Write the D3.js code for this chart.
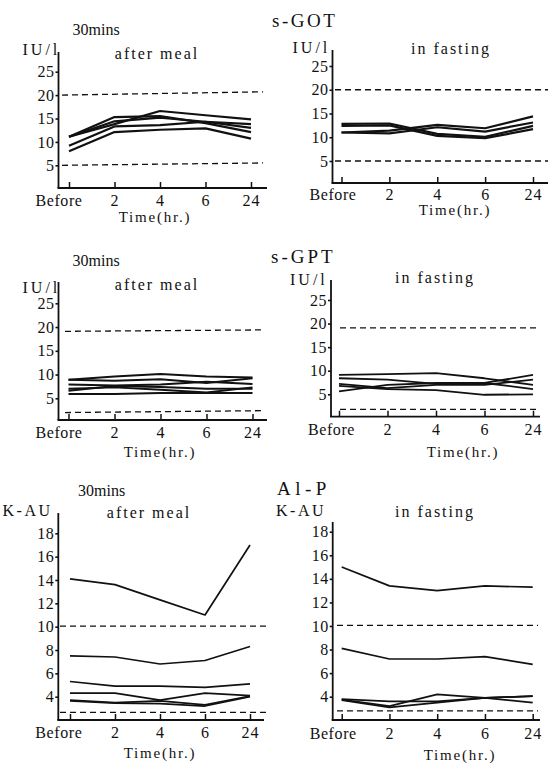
<!DOCTYPE html>
<html>
<head>
<meta charset="utf-8">
<script src="https://cdn.jsdelivr.net/npm/d3@7"></script>
<style>
  body { margin: 0; background: #fff; }
  svg, svg text { font-family: "Liberation Serif", "Times New Roman", Times, "DejaVu Serif", "Noto Serif", serif !important; }
  svg text { fill: #111; }
</style>
</head>
<body>
<div id="chart-container"></div>
<script>
// time points on the x axis
const timeLabels = ["Before", "2", "4", "6", "24"];

const iuTicks = [5, 10, 15, 20, 25];
const kauTicks = [4, 6, 8, 10, 12, 14, 16, 18];

// s-GOT (IU/l)
const gotMeal = [
  [11.1, 13.8, 16.6, 15.7, 14.8],
  [11.1, 15.3, 15.5, 14.0, 12.1],
  [11.1, 14.4, 15.2, 14.3, 13.0],
  [9.2, 13.3, 13.6, 14.3, 13.8],
  [8.0, 12.1, 12.6, 12.9, 10.7]
];
const gotFast = [
  [12.8, 12.9, 10.7, 10.1, 12.4],
  [12.4, 12.5, 10.3, 9.8, 11.7],
  [11.0, 11.4, 12.6, 11.9, 14.4],
  [11.0, 10.8, 12.1, 11.2, 13.1]
];
const gotMealRef = [[20, 20.7], [5, 5.5]];
const gotFastRef = [[20, 20], [5, 5]];

// s-GPT (IU/l)
const gptMeal = [
  [8.9, 9.6, 10.1, 9.6, 9.4],
  [8.9, 8.7, 9.0, 8.2, 9.2],
  [7.9, 7.7, 7.9, 8.5, 8.0],
  [7.0, 7.3, 6.8, 6.2, 7.3],
  [6.6, 7.6, 7.4, 7.0, 7.0],
  [5.9, 5.9, 6.1, 6.1, 6.1]
];
const gptFast = [
  [9.1, 9.3, 9.5, 8.4, 7.0],
  [8.4, 8.1, 7.2, 7.4, 9.1],
  [7.2, 6.3, 7.0, 7.0, 8.1],
  [5.6, 7.0, 7.4, 7.4, 6.1],
  [6.8, 6.1, 5.9, 4.9, 5.0]
];
const gptMealRef = [[19.1, 19.4], [2.0, 2.4]];
const gptFastRef = [[19.1, 19.1], [1.8, 1.8]];

// Al-P (K-AU)
const alpMeal = [
  [14.1, 13.6, 12.3, 11.0, 17.0],
  [7.5, 7.4, 6.8, 7.1, 8.3],
  [5.3, 4.9, 4.9, 4.8, 5.1],
  [4.3, 4.3, 3.7, 4.3, 4.1],
  [3.7, 3.5, 3.65, 3.3, 4.05],
  [3.65, 3.45, 3.4, 3.2, 4.0]
];
const alpFast = [
  [15.0, 13.4, 13.0, 13.4, 13.3],
  [8.1, 7.2, 7.2, 7.4, 6.75],
  [3.8, 3.6, 3.6, 3.9, 4.05],
  [3.75, 3.2, 4.2, 3.9, 3.5],
  [3.7, 3.1, 3.5, 3.9, 4.05]
];
const alpMealRef = [[10.05, 10.05], [2.65, 2.65]];
const alpFastRef = [[10.05, 10.05], [2.8, 2.8]];

const FONT = "'Liberation Serif', 'Times New Roman', Times, 'DejaVu Serif', serif";

const svg = d3.select("#chart-container")
  .append("svg")
    .attr("width", 553)
    .attr("height", 763)
    .attr("font-family", FONT);

// panel layout: axis origin, tick extents, two calibration ticks for y
const panels = [
  { data: gotMeal, ref: gotMealRef, ticks: iuTicks, lw: 2.2,
    axisX: 58.5, axisY: 188, yTop: 52, xFirst: 69, xLast: 251, xEnd: 267, refX: [62, 263],
    yDom: [5, 25], yRange: [165.3, 71.7], timeX: 155, timeY: 222, tickY: 206,
    unit: { t: "IU/l", x: 22.5, y: 55, ls: 3 }, sub: { t: "after meal", x: 157, y: 59 },
    pre: { t: "30mins", x: 72.5, y: 35 } },
  { data: gotFast, ref: gotFastRef, ticks: iuTicks, lw: 2.2,
    axisX: 332.5, axisY: 183, yTop: 50, xFirst: 341.5, xLast: 533, xEnd: 548, refX: [335, 548],
    yDom: [5, 25], yRange: [161, 66], timeX: 455, timeY: 215, tickY: 200,
    unit: { t: "IU/l", x: 292.5, y: 53, ls: 3 }, sub: { t: "in fasting", x: 451, y: 54 } },
  { data: gptMeal, ref: gptMealRef, ticks: iuTicks, lw: 2,
    axisX: 58.5, axisY: 420, yTop: 282, xFirst: 68.5, xLast: 252.5, xEnd: 267, refX: [65, 265],
    yDom: [5, 25], yRange: [398.3, 303.3], timeX: 160, timeY: 457, tickY: 438,
    unit: { t: "IU/l", x: 22.5, y: 293, ls: 3 }, sub: { t: "after meal", x: 157, y: 290 },
    pre: { t: "30mins", x: 72.5, y: 266 } },
  { data: gptFast, ref: gptFastRef, ticks: iuTicks, lw: 1.8,
    axisX: 331, axisY: 416.7, yTop: 280, xFirst: 339, xLast: 533, xEnd: 540, refX: [340, 540],
    yDom: [5, 25], yRange: [394.3, 300], timeX: 463, timeY: 457, tickY: 435,
    unit: { t: "IU/l", x: 290, y: 285, ls: 3 }, sub: { t: "in fasting", x: 435, y: 283 } },
  { data: alpMeal, ref: alpMealRef, ticks: kauTicks, lw: 1.7,
    axisX: 58.3, axisY: 720, yTop: 513, xFirst: 70, xLast: 250, xEnd: 264, refX: [60, 267],
    yDom: [4, 18], yRange: [696.7, 533.3], timeX: 160, timeY: 758, tickY: 738,
    unit: { t: "K-AU", x: 2.5, y: 516, ls: 2.5 }, sub: { t: "after meal", x: 149, y: 518 },
    pre: { t: "30mins", x: 78, y: 496 } },
  { data: alpFast, ref: alpFastRef, ticks: kauTicks, lw: 1.7,
    axisX: 332.7, axisY: 720, yTop: 522, xFirst: 341.7, xLast: 532.7, xEnd: 540, refX: [337, 538],
    yDom: [4, 18], yRange: [696.7, 531.7], timeX: 460, timeY: 760, tickY: 739,
    unit: { t: "K-AU", x: 276, y: 516, ls: 2.5 }, sub: { t: "in fasting", x: 435, y: 517 } }
];

// section titles
const titles = [
  { t: "s-GOT", x: 272, y: 27, ls: 2.5 },
  { t: "s-GPT", x: 271, y: 263, ls: 3 },
  { t: "Al-P", x: 277, y: 495, ls: 4.5 }
];
svg.selectAll(".title")
  .data(titles)
  .join("text")
  .attr("class", "title")
  .attr("x", d => d.x)
  .attr("y", d => d.y)
  .style("font-size", "19px")
  .style("letter-spacing", d => d.ls + "px")
  .text(d => d.t);

panels.forEach(p => {
  const g = svg.append("g");

  const x = d3.scalePoint()
    .domain(timeLabels)
    .range([p.xFirst, p.xLast]);

  const y = d3.scaleLinear()
    .domain(p.yDom)
    .range(p.yRange);

  // y ticks
  const ya = g.append("g")
    .attr("transform", `translate(${p.axisX},0)`)
    .call(d3.axisLeft(y).tickValues(p.ticks).tickSize(3).tickPadding(1))
    .attr("font-family", FONT)
    .attr("font-size", 16);
  ya.select(".domain").remove();
  ya.selectAll(".tick line").attr("stroke", "#111").attr("stroke-width", 1.6);
  ya.selectAll(".tick text")
    .style("letter-spacing", "0.5px")
    .attr("fill", "#111");

  // x ticks
  const xa = g.append("g")
    .attr("transform", `translate(0,${p.axisY})`)
    .call(d3.axisBottom(x).tickSize(-6).tickPadding(7))
    .attr("font-family", FONT)
    .attr("font-size", 16);
  xa.select(".domain").remove();
  xa.selectAll(".tick line").attr("stroke", "#111").attr("stroke-width", 1.5);
  xa.selectAll(".tick text")
    .style("letter-spacing", d => d === "Before" ? "0.6px" : "1px")
    .attr("fill", "#111")
    .attr("y", p.tickY - p.axisY)
    .attr("dy", 0)
    .attr("x", d => d === "Before" ? p.axisX - x(d) : 0);

  // axis lines
  g.append("line")
    .attr("x1", p.axisX).attr("x2", p.axisX)
    .attr("y1", p.axisY).attr("y2", p.yTop)
    .attr("stroke", "#111").attr("stroke-width", 1.8);
  g.append("line")
    .attr("x1", p.axisX - 1).attr("x2", p.xEnd)
    .attr("y1", p.axisY).attr("y2", p.axisY)
    .attr("stroke", "#111").attr("stroke-width", 1.8);

  // normal range (dashed)
  g.selectAll(".ref")
    .data(p.ref)
    .join("line")
    .attr("x1", p.refX[0]).attr("x2", p.refX[1])
    .attr("y1", d => y(d[0])).attr("y2", d => y(d[1]))
    .attr("stroke", "#111")
    .attr("stroke-width", 1.3)
    .attr("stroke-dasharray", "6,4");

  // subject lines
  const line = d3.line()
    .x((d, i) => x(timeLabels[i]))
    .y(d => y(d));

  g.selectAll(".subj")
    .data(p.data)
    .join("path")
    .attr("fill", "none")
    .attr("stroke", "#111")
    .attr("stroke-width", p.lw)
    .attr("stroke-linejoin", "round")
    .attr("d", line);

  // labels
  g.append("text")
    .attr("x", p.unit.x).attr("y", p.unit.y)
    .style("font-size", "16px")
    .style("letter-spacing", p.unit.ls + "px")
    .text(p.unit.t);

  g.append("text")
    .attr("x", p.sub.x).attr("y", p.sub.y)
    .attr("text-anchor", "middle")
    .style("font-size", "16px")
    .style("letter-spacing", "2px")
    .text(p.sub.t);

  if (p.pre) {
    g.append("text")
      .attr("x", p.pre.x).attr("y", p.pre.y)
      .style("font-size", "16px")
      .text(p.pre.t);
  }

  g.append("text")
    .attr("x", p.timeX).attr("y", p.timeY)
    .attr("text-anchor", "middle")
    .style("font-size", "15px")
    .style("letter-spacing", "1.8px")
    .text("Time(hr.)");
});
</script>
</body>
</html>
